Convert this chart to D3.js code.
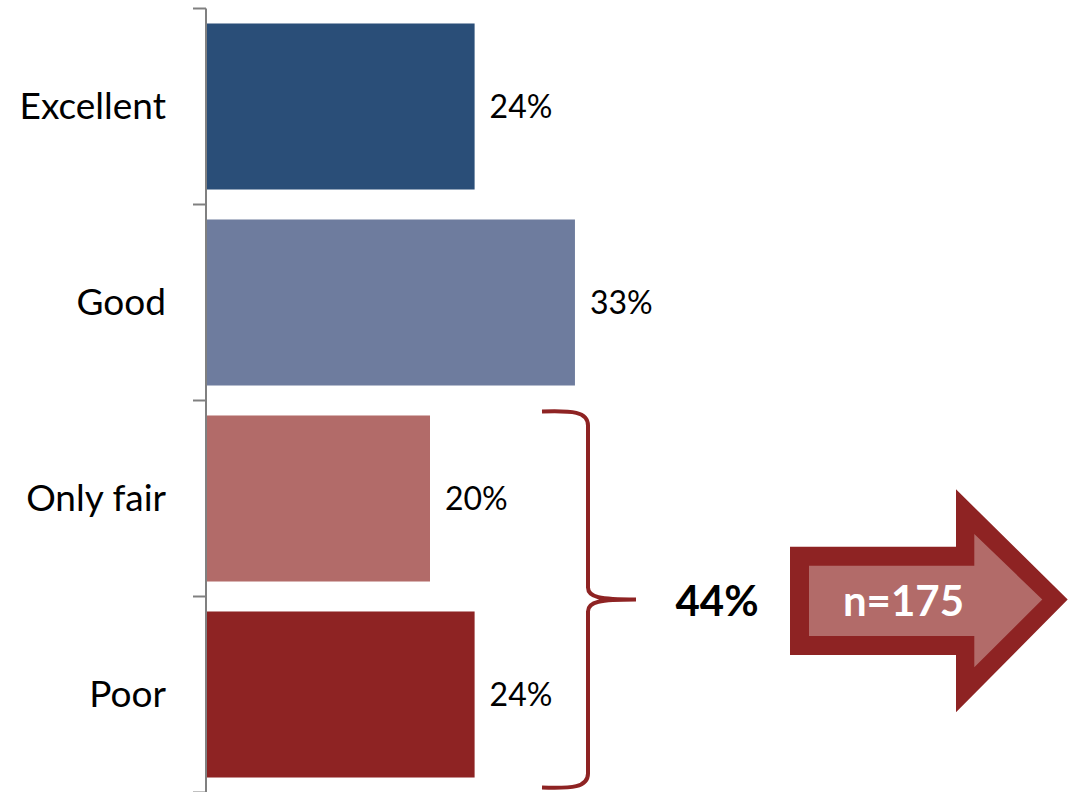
<!DOCTYPE html>
<html>
<head>
<meta charset="utf-8">
<script src="https://cdn.jsdelivr.net/npm/d3@7"></script>
<style>
  html, body { margin: 0; padding: 0; background: #fff; }
  svg { display: block; }
  text { font-family: Lato, "Open Sans", sans-serif; }
</style>
</head>
<body>
<svg id="chart" width="1068" height="792"></svg>
<script>
// Ratings and their shares (%)
const categories = ["Excellent", "Good", "Only fair", "Poor"];
const shares = [24, 33, 20, 24];
const barColors = ["#2a4e78", "#6e7c9e", "#b26b69", "#8e2323"];
// Categories grouped under the brace, and the sample size on the arrow
const bracedCategories = ["Only fair", "Poor"];
const sampleLabel = "n=175";

const svg = d3.select("#chart");

const y = d3.scaleBand()
  .domain(categories)
  .range([8.5, 792.5])
  .paddingInner(0.153)
  .paddingOuter(0.0765);

const x = d3.scaleLinear().domain([0, 40]).range([207, 653]);

// Bars
svg.append("g").selectAll("rect")
  .data(categories)
  .join("rect")
  .attr("x", x(0))
  .attr("y", d => y(d))
  .attr("width", (d, i) => x(shares[i]) - x(0))
  .attr("height", y.bandwidth())
  .attr("fill", (d, i) => barColors[i]);

// Category axis: vertical line with ticks between categories
const axisG = svg.append("g").attr("stroke", "#808080").attr("stroke-width", 2);
const r0 = y.range()[0], r1 = y.range()[1];
axisG.append("line").attr("x1", x(0) - 1).attr("x2", x(0) - 1).attr("y1", r0).attr("y2", r1);
d3.range(categories.length + 1).forEach(i => {
  const ty = r0 + i * y.step();
  axisG.append("line").attr("x1", x(0) - 14).attr("x2", x(0) - 1).attr("y1", ty).attr("y2", ty);
});

// Category labels
svg.append("g").selectAll("text")
  .data(categories)
  .join("text")
  .attr("x", 166)
  .attr("y", d => y(d) + y.bandwidth() / 2 + 12.5)
  .attr("text-anchor", "end")
  .attr("font-size", 37)
  .attr("fill", "#000")
  .text(d => d);

// Value labels
svg.append("g").selectAll("text")
  .data(categories)
  .join("text")
  .attr("x", (d, i) => x(shares[i]) + 15)
  .attr("y", d => y(d) + y.bandwidth() / 2 + 11.5)
  .attr("font-size", 32)
  .attr("fill", "#000")
  .text((d, i) => shares[i] + "%");

// Brace grouping the lower categories
const yTop = y(bracedCategories[0]) - 4;
const yBot = y(bracedCategories[bracedCategories.length - 1]) + y.bandwidth() + 10;
const yMid = (yTop + yBot) / 2;
const bx0 = 542, bx1 = 588, bxTip = 636;
const p = d3.path();
p.moveTo(bx0, yTop);
p.bezierCurveTo(572, yTop - 1, bx1, yTop, bx1, yTop + 14);
p.lineTo(bx1, yMid - 12);
p.bezierCurveTo(bx1, yMid - 2, 600, yMid, bxTip, yMid);
p.bezierCurveTo(600, yMid, bx1, yMid + 2, bx1, yMid + 12);
p.lineTo(bx1, yBot - 14);
p.bezierCurveTo(bx1, yBot, 572, yBot + 1, bx0, yBot);
svg.append("path")
  .attr("d", p.toString())
  .attr("fill", "none")
  .attr("stroke", "#8e2323")
  .attr("stroke-width", 4);

// Combined share of the braced categories
const combined = d3.sum(bracedCategories, c => shares[categories.indexOf(c)]);
svg.append("text")
  .attr("x", 717)
  .attr("y", yMid + 16)
  .attr("text-anchor", "middle")
  .attr("font-size", 42)
  .attr("font-weight", "bold")
  .attr("fill", "#000")
  .text(combined + "%");

// Arrow with sample size
const arrow = (x0, sTop, sBot, hx, hTop, hBot, tip, cy) =>
  [[x0, sTop], [hx, sTop], [hx, hTop], [tip, cy], [hx, hBot], [hx, sBot], [x0, sBot]];
svg.append("polygon")
  .attr("points", arrow(790, 546.7, 655, 956, 489.3, 712.3, 1067.7, yMid).join(" "))
  .attr("fill", "#8e2323");
svg.append("polygon")
  .attr("points", arrow(809, 565.7, 636, 974.3, 534, 667.3, 1042.3, yMid).join(" "))
  .attr("fill", "#b26b69");
svg.append("text")
  .attr("x", 903.5)
  .attr("y", yMid + 16)
  .attr("text-anchor", "middle")
  .attr("font-size", 42)
  .attr("font-weight", "bold")
  .attr("fill", "#fff")
  .text(sampleLabel);
</script>
</body>
</html>
